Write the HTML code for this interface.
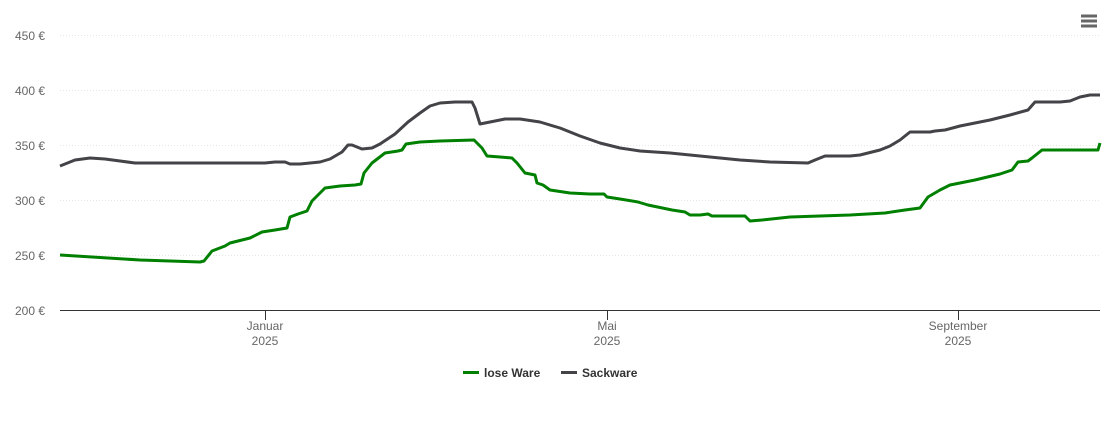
<!DOCTYPE html>
<html><head><meta charset="utf-8"><style>
html,body{margin:0;padding:0;background:#fff;}
svg{display:block;font-family:"Liberation Sans",Arial,sans-serif;}
</style></head><body>
<svg width="1110" height="423" viewBox="0 0 1110 423" xmlns="http://www.w3.org/2000/svg">
<g stroke="#e6e6e6" stroke-width="1" stroke-dasharray="1,2">
<line x1="60" x2="1100" y1="35.5" y2="35.5"/>
<line x1="60" x2="1100" y1="90.5" y2="90.5"/>
<line x1="60" x2="1100" y1="145.5" y2="145.5"/>
<line x1="60" x2="1100" y1="200.5" y2="200.5"/>
<line x1="60" x2="1100" y1="255.5" y2="255.5"/>
</g>
<line x1="60" x2="1100" y1="310.5" y2="310.5" stroke="#333" stroke-width="1"/>
<g stroke="#333" stroke-width="1">
<line x1="265.5" x2="265.5" y1="310" y2="320"/>
<line x1="607.5" x2="607.5" y1="310" y2="320"/>
<line x1="958.5" x2="958.5" y1="310" y2="320"/>
</g>
<g fill="#666" font-size="12" text-anchor="end">
<text x="45" y="40">450 €</text>
<text x="45" y="95">400 €</text>
<text x="45" y="150">350 €</text>
<text x="45" y="205">300 €</text>
<text x="45" y="260">250 €</text>
<text x="45" y="315">200 €</text>
</g>
<g fill="#666" font-size="12" text-anchor="middle">
<text x="265" y="330">Januar</text><text x="265" y="345">2025</text>
<text x="607" y="330">Mai</text><text x="607" y="345">2025</text>
<text x="958" y="330">September</text><text x="958" y="345">2025</text>
</g>
<polyline fill="none" stroke="#434348" stroke-width="3" stroke-linejoin="round" points="60,166 75,160 90,158 105,159 120,161 135,163 250,163 265,163 275,162 285,162 290,164 300,164 320,162 330,159 342,152 348,145 352,145 362,149 372,148 380,144 395,134 408,122 420,113 430,106 440,103 455,102 472,102 475,108 480,124 490,122 505,119 520,119 540,122 560,128 580,136 600,143 620,148 640,151 670,153 700,156 740,160 770,162 808,163 815,160 825,156 850,156 860,155 880,150 890,146 900,140 910,132 930,132 935,131 945,130 960,126 990,120 1010,115 1028,110 1035,102 1060,102 1070,101 1080,97 1090,95 1100,95"/>
<polyline fill="none" stroke="#008000" stroke-width="3" stroke-linejoin="round" points="60,255 140,260 200,262 204,261 212,251 225,246 230,243 250,238 262,232 275,230 287,228 290,217 298,214 307,211 312,201 325,188 340,186 355,185 361,184 364,173 372,163 385,153 398,151 402,150 406,144 420,142 440,141 474,140 482,148 487,156 500,157 512,158 517,163 525,173 535,175 537,183 543,185 550,190 570,193 590,194 604,194 607,197 620,199 638,202 648,205 672,210 685,212 690,215 700,215 708,214 712,216 745,216 750,221 762,220 790,217 850,215 885,213 905,210 920,208 928,197 940,190 950,185 975,180 1000,174 1012,170 1018,162 1028,161 1032,158 1042,150 1098,150 1100,143"/>
<g stroke="#666" stroke-width="3">
<line x1="1081" x2="1097" y1="16" y2="16"/>
<line x1="1081" x2="1097" y1="21" y2="21"/>
<line x1="1081" x2="1097" y1="26" y2="26"/>
</g>
<line x1="463" x2="479" y1="372.5" y2="372.5" stroke="#008000" stroke-width="3"/>
<text x="484" y="377" font-size="12" font-weight="bold" fill="#333">lose Ware</text>
<line x1="561" x2="577" y1="372.5" y2="372.5" stroke="#434348" stroke-width="3"/>
<text x="582" y="377" font-size="12" font-weight="bold" fill="#333">Sackware</text>
</svg>
</body></html>
